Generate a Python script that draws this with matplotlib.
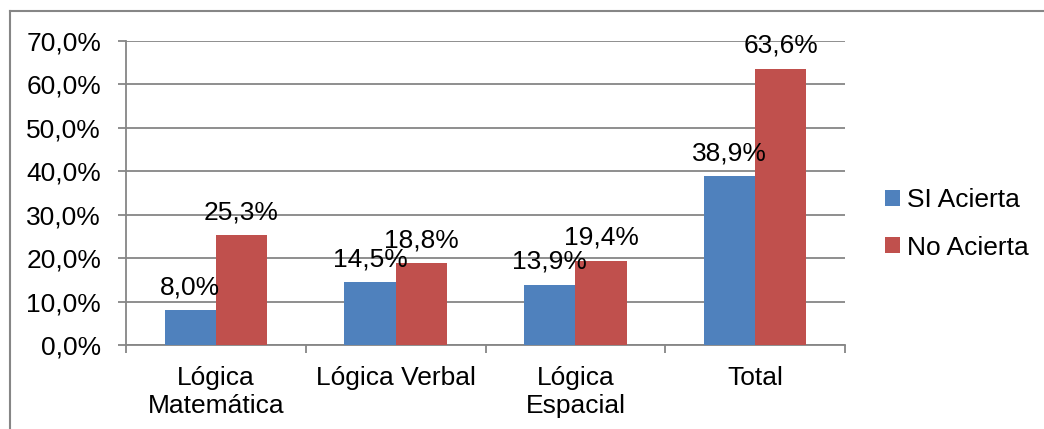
import numpy as np
import matplotlib.pyplot as plt
from matplotlib.lines import Line2D

plt.rcParams['font.family'] = ['Liberation Sans', 'DejaVu Sans']

categories = ['Lógica\nMatemática', 'Lógica Verbal', 'Lógica\nEspacial', 'Total']
si_acierta = [8.0, 14.5, 13.9, 38.9]
no_acierta = [25.3, 18.8, 19.4, 63.6]
series_names = ['SI Acierta', 'No Acierta']

blue = '#4F81BD'
red = '#C0504D'
grid_gray = '#868686'
fs = 19

fig = plt.figure(figsize=(10.44, 4.29), dpi=100)
ax = fig.add_axes([126 / 1044, 84 / 429, 719 / 1044, 304 / 429])

x = np.arange(len(categories))
w = 0.285
b1 = ax.bar(x - w / 2, si_acierta, w, color=blue, label=series_names[0], zorder=3)
b2 = ax.bar(x + w / 2, no_acierta, w, color=red, label=series_names[1], zorder=3)

# value labels above each bar, Spanish decimal comma
for bars, vals in ((b1, si_acierta), (b2, no_acierta)):
    for rect, v in zip(bars, vals):
        ax.annotate(f'{v:.1f}%'.replace('.', ','),
                    (rect.get_x() + rect.get_width() / 2, v),
                    xytext=(0, 16), textcoords='offset pixels',
                    ha='center', va='baseline', fontsize=fs, zorder=5)

ax.set_xlim(-0.5, len(categories) - 0.5)
ax.set_ylim(0, 70)
yt = np.arange(0, 71, 10)
ax.set_yticks(yt)
ax.set_yticklabels([f'{v:.1f}%'.replace('.', ',') for v in yt], fontsize=fs)
ax.yaxis.grid(True, color=grid_gray, linewidth=1.3, zorder=0)
ax.tick_params(axis='y', length=6, width=1.3, color=grid_gray, pad=12)

# category labels centered, tick marks at category boundaries
ax.set_xticks(x)
ax.set_xticklabels(categories, fontsize=fs, linespacing=1.2)
ax.tick_params(axis='x', length=0, pad=15)
ax.set_xticks(np.arange(-0.5, len(categories)), minor=True)
ax.tick_params(axis='x', which='minor', length=6, width=1.3, color=grid_gray)

for side in ('top', 'right'):
    ax.spines[side].set_visible(False)
for side in ('left', 'bottom'):
    ax.spines[side].set_color(grid_gray)
    ax.spines[side].set_linewidth(1.3)

fig.legend(handles=[b1, b2], loc='center left',
           bbox_to_anchor=(885 / 1044, 1 - 224 / 429), frameon=False,
           borderpad=0, borderaxespad=0,
           fontsize=fs, handlelength=0.55, handleheight=0.55,
           handletextpad=0.3, labelspacing=0.88)

# outer chart border
fig.add_artist(Line2D([10 / 1044, 10 / 1044], [0, 1 - 11 / 429],
                      color=grid_gray, linewidth=1.5, transform=fig.transFigure))
fig.add_artist(Line2D([10 / 1044, 1], [1 - 11 / 429, 1 - 11 / 429],
                      color=grid_gray, linewidth=1.5, transform=fig.transFigure))

fig.savefig('out.png', dpi=100)
